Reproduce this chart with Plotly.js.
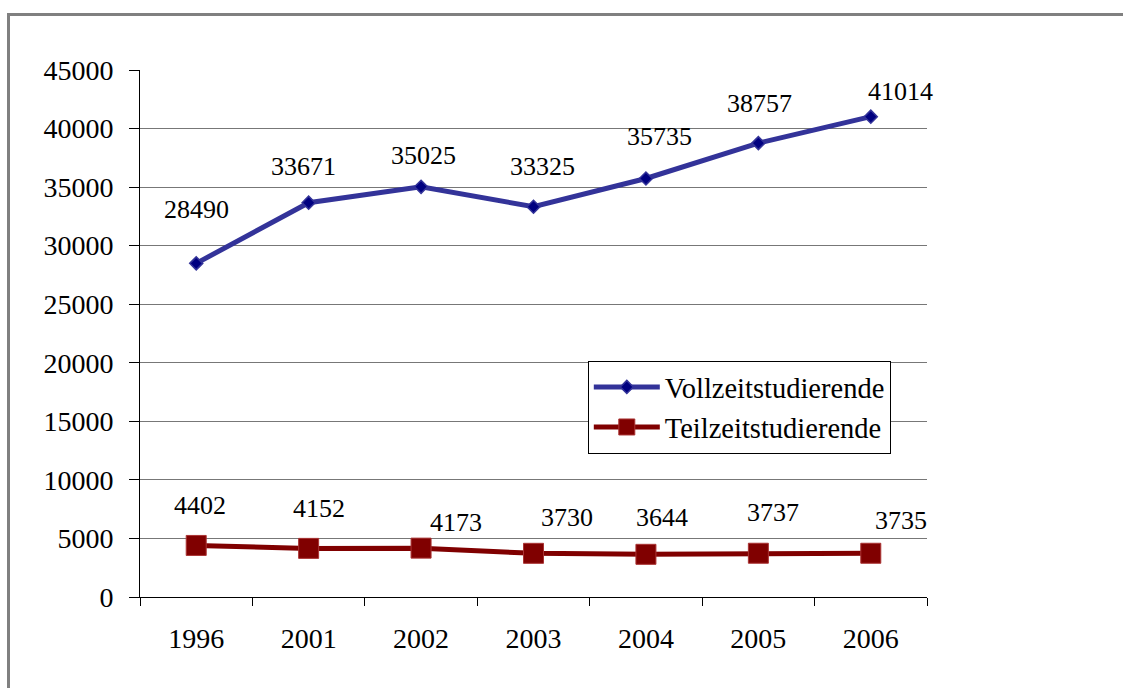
<!DOCTYPE html>
<html>
<head>
<meta charset="utf-8">
<script src="https://cdn.plot.ly/plotly-3.0.1.min.js"></script>
<style>
  html, body { margin: 0; padding: 0; background: #fff; }
  #chart { width: 1123px; height: 688px; }
  #frame { position: absolute; left: 7px; top: 13px; width: 1200px; height: 800px;
           border-left: 3px solid #808080; border-top: 3px solid #808080;
           pointer-events: none; box-sizing: border-box; }
</style>
</head>
<body>
<div id="chart"></div>
<div id="frame"></div>
<script>
// ---- data ----
const years = ['1996', '2001', '2002', '2003', '2004', '2005', '2006'];
const vollzeit = [28490, 33671, 35025, 33325, 35735, 38757, 41014];
const teilzeit = [4402, 4152, 4173, 3730, 3644, 3737, 3735];
const seriesNames = ['Vollzeitstudierende', 'Teilzeitstudierende'];
const yTicks = [0, 5000, 10000, 15000, 20000, 25000, 30000, 35000, 40000, 45000];

// ---- label placement (pixel shifts relative to points) ----
const vollShift = [[0, 54], [-5, 36], [2, 31], [9, 40], [14, 42], [1, 40], [30, 25]];
const teilShift = [[4, 40], [10, 40], [35, 26], [33, 36], [16, 37], [15, 41], [30, 33]];

const serif = "'Liberation Serif', 'Times New Roman', serif";

const traces = [
  {
    x: years, y: vollzeit, name: seriesNames[0], type: 'scatter', mode: 'lines+markers',
    line: { color: '#333399', width: 5 },
    marker: { symbol: 'diamond', size: 10, color: '#000080', line: { color: '#333399', width: 1.5 } }
  },
  {
    x: years, y: teilzeit, name: seriesNames[1], type: 'scatter', mode: 'lines+markers',
    line: { color: '#800000', width: 5 },
    marker: { symbol: 'square', size: 20, color: '#800000', line: { color: '#a33', width: 1 } }
  }
];

const annotations = [];
function addLabels(vals, shifts) {
  for (let i = 0; i < vals.length; i++) {
    annotations.push({
      x: i, y: vals[i], xref: 'x', yref: 'y', text: String(vals[i]), showarrow: false,
      xanchor: 'center', yanchor: 'middle', xshift: shifts[i][0], yshift: shifts[i][1],
      font: { family: serif, size: 26, color: '#000000' }
    });
  }
}
addLabels(vollzeit, vollShift);
addLabels(teilzeit, teilShift);

const layout = {
  width: 1123, height: 688,
  margin: { l: 140, r: 196, t: 70, b: 91, pad: 0 },
  paper_bgcolor: '#fff', plot_bgcolor: '#fff',
  font: { family: serif, size: 28, color: '#000' },
  showlegend: true,
  legend: {
    x: 0.569, y: 0.448, xanchor: 'left', yanchor: 'top',
    bgcolor: '#fff', bordercolor: '#000', borderwidth: 1,
    font: { family: serif, size: 28.5, color: '#000' },
    itemwidth: 66
  },
  xaxis: {
    type: 'category', range: [-0.5, 6.5], fixedrange: true,
    showgrid: false, zeroline: false,
    showline: true, linecolor: '#000', linewidth: 1,
    ticks: 'outside', tickson: 'boundaries', ticklen: 8, tickcolor: '#000', tickwidth: 1,
    ticklabelstandoff: 16,
    tickfont: { family: serif, size: 28, color: '#000' }
  },
  yaxis: {
    range: [0, 45000], tickvals: yTicks, ticktext: yTicks.map(String), fixedrange: true,
    showgrid: true, gridcolor: '#777', gridwidth: 1, zeroline: false,
    showline: true, linecolor: '#000', linewidth: 1,
    ticks: 'outside', ticklen: 10, tickcolor: '#000', tickwidth: 1,
    ticklabelstandoff: 10,
    tickfont: { family: serif, size: 28, color: '#000' }
  },
  annotations: annotations
};

Plotly.newPlot('chart', traces, layout, { displayModeBar: false });
</script>
</body>
</html>
